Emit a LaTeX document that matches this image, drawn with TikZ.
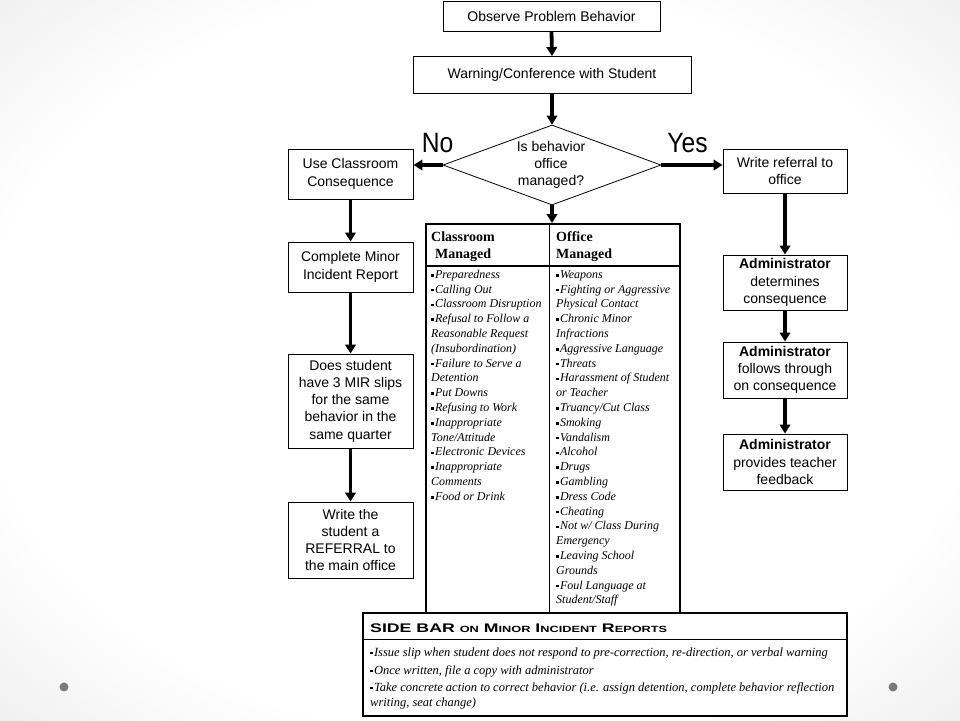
\documentclass[tikz,border=0pt]{standalone}
\usepackage{fontspec}
\usepackage{graphicx}
\setmainfont{Liberation Serif}
\newfontfamily\arialf{Liberation Sans}
\usetikzlibrary{shapes.geometric,arrows.meta}
\pgfdeclareradialshading{bgshade}{\pgfpoint{0bp}{0bp}}{color(0bp)=(white); color(26bp)=(white); color(50bp)=(black!15); color(72bp)=(black!21)}
\newcommand{\bu}{\raisebox{0.3ex}{\rule{2.6pt}{2.6pt}}\hspace{1.2pt}}
\newcommand{\smc}[1]{{\fontsize{9}{9}\selectfont #1}}
\newcommand{\tstr}{\rule{0pt}{10pt}}
\tikzset{
  fbox/.style={draw, line width=0.9pt, fill=white, inner sep=0pt, align=center,
    font=\arialf\fontsize{14}{17.3}\selectfont},
  arr/.style={line width=3.8pt, -{Triangle[length=9pt,width=10.5pt]}},
  yesno/.style={font=\arialf\fontsize{28}{28}\selectfont, inner sep=0pt},
  coltext/.style={anchor=north west, inner sep=0pt, align=left,
    font=\fontsize{12}{14.8}\selectfont\itshape},
  colhead/.style={anchor=north west, inner sep=0pt, align=left,
    font=\fontsize{14}{17.5}\selectfont\bfseries},
  sidetext/.style={inner sep=0pt, align=left, font=\fontsize{12.5}{15.5}\selectfont\itshape},
  dot/.style={fill=black!52}
}
\begin{document}
\begin{tikzpicture}[x=1pt,y=-1pt]
\shade[shading=bgshade] (0,0) rectangle (960,720);
\useasboundingbox (0,0) rectangle (960,720);
\fill[dot] (64,687) circle (4.5pt);
\fill[dot] (893,687) circle (4.5pt);

% top flow
\node[fbox, minimum width=217pt, minimum height=30pt] (obs) at (551.5,16.3) {Observe Problem Behavior};
\node[fbox, minimum width=278pt, minimum height=37pt] (warn) at (552,75) {Warning/Conference with Student};
\node[diamond, draw, line width=0.8pt, fill=white, minimum width=218pt, minimum height=80pt, inner sep=0pt] (dia) at (552,165) {};
\node[align=center, inner sep=0pt, font=\arialf\fontsize{14}{17}\selectfont] (dtext) at (551,165) {Is behavior\\office\\managed?};
\node[yesno] (no) at (437.5,143) {\scalebox{0.88}[1]{No}};
\node[yesno] (yes) at (687.5,143) {\scalebox{0.88}[1]{Yes}};

% left column
\node[fbox, minimum width=125pt, minimum height=50pt] (lb1) at (350.5,174) {Use Classroom\\Consequence};
\node[fbox, minimum width=125pt, minimum height=50pt] (lb2) at (350.5,267) {Complete Minor\\Incident Report};
\node[fbox, minimum width=125pt, minimum height=94pt] (lb3) at (350.5,401) {Does student\\have 3 MIR slips\\for the same\\behavior in the\\same quarter};
\node[fbox, minimum width=125pt, minimum height=76pt] (lb4) at (350.5,540) {Write the\\student a\\REFERRAL to\\the main office};

% right column
\node[fbox, minimum width=124pt, minimum height=44pt] (rb1) at (785,171) {Write referral to\\office};
\node[fbox, minimum width=124pt, minimum height=55pt] (rb2) at (785,282.5) {\textbf{Administrator}\\determines\\consequence};
\node[fbox, minimum width=124pt, minimum height=56pt] (rb3) at (785,370) {\textbf{Administrator}\\follows through\\on consequence};
\node[fbox, minimum width=124pt, minimum height=56pt] (rb4) at (785,462) {\textbf{Administrator}\\provides teacher\\feedback};

% table
\node[draw, line width=2pt, fill=white, minimum width=254pt, minimum height=389pt, inner sep=0pt] (tbl) at (553,418.5) {};
\draw[line width=1pt] ([xshift=-4pt]tbl.north) -- ([xshift=-4pt]tbl.south);
\draw[line width=1.4pt] ([yshift=-43pt]tbl.north west) -- ([yshift=-43pt]tbl.north east);
\node[colhead] (h1) at (431,229) {\rule{0pt}{12pt}Classroom\\\hspace{4pt}Managed};
\node[colhead] (h2) at (556,229) {\rule{0pt}{12pt}Office\\Managed};
\node[coltext] (c1) at (431,268) {\tstr\bu Preparedness\\
\bu Calling Out\\
\bu Classroom Disruption\\
\bu Refusal to Follow a\\
Reasonable Request\\
(Insubordination)\\
\bu Failure to Serve a\\
Detention\\
\bu Put Downs\\
\bu Refusing to Work\\
\bu Inappropriate\\
Tone/Attitude\\
\bu Electronic Devices\\
\bu Inappropriate\\
Comments\\
\bu Food or Drink};
\node[coltext] (c2) at (556,268) {\tstr\bu Weapons\\
\bu Fighting or Aggressive\\
Physical Contact\\
\bu Chronic Minor\\
Infractions\\
\bu Aggressive Language\\
\bu Threats\\
\bu Harassment of Student\\
or Teacher\\
\bu Truancy/Cut Class\\
\bu Smoking\\
\bu Vandalism\\
\bu Alcohol\\
\bu Drugs\\
\bu Gambling\\
\bu Dress Code\\
\bu Cheating\\
\bu Not w/ Class During\\
Emergency\\
\bu Leaving School\\
Grounds\\
\bu Foul Language at\\
Student/Staff};

% sidebar
\node[draw, line width=2pt, fill=white, minimum width=484pt, minimum height=103pt, inner sep=0pt] (side) at (605,664.5) {};
\draw[line width=1pt] ([yshift=-27pt]side.north west) -- ([yshift=-27pt]side.north east);
\node[anchor=base west, inner sep=0pt, font=\arialf\bfseries\fontsize{12.5}{12.5}\selectfont] (shead) at (370,632)
  {\resizebox{297pt}{\height}{SIDE BAR \smc{ON} M\smc{INOR} I\smc{NCIDENT} R\smc{EPORTS}}};
\node[sidetext, anchor=base west] (s1) at (370,656) {\bu Issue slip when student does not respond to pre-correction, re-direction, or verbal warning};
\node[sidetext, anchor=base west] (s2) at (370,674) {\bu Once written, file a copy with administrator};
\node[sidetext, anchor=north west] (s3) at (370,681) {\tstr\bu Take concrete action to correct behavior (i.e. assign detention, complete behavior reflection\\writing, seat change)};

% connectors
\draw[arr] (obs.south) -- (warn.north);
\draw[arr] (warn.south) -- (dia.north);
\draw[arr] (dia.west) -- (dia.west -| lb1.east);
\draw[arr] (dia.east) -- (dia.east -| rb1.west);
\draw[arr] (dia.south) -- (dia.south |- tbl.north);
\draw[arr] (lb1.south) -- (lb2.north);
\draw[arr] (lb2.south) -- (lb3.north);
\draw[arr] (lb3.south) -- (lb4.north);
\draw[arr] (rb1.south) -- (rb2.north);
\draw[arr] (rb2.south) -- (rb3.north);
\draw[arr] (rb3.south) -- (rb4.north);
\end{tikzpicture}
\end{document}
